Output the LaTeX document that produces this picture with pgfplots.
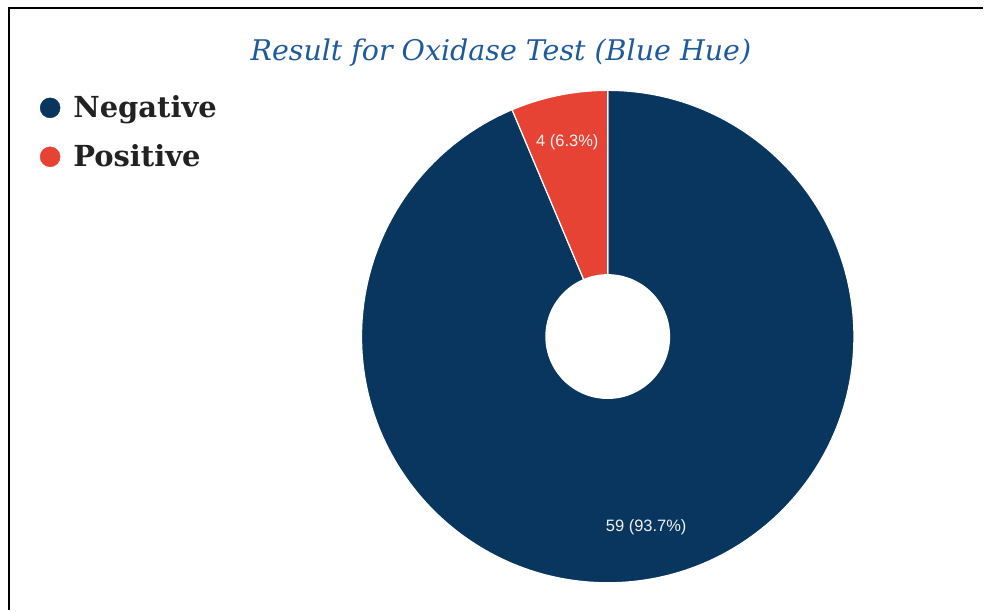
\documentclass[border=0pt]{standalone}
\usepackage{pgfplots}
\usepackage{pgfplotstable}
\pgfplotsset{compat=1.18}
\usepackage{fontspec}
\setmainfont{Liberation Sans}
\newfontfamily\titlefont{DejaVu Serif}
\newfontfamily\legfont{DejaVu Serif}
\definecolor{navy}{HTML}{08365E}
\definecolor{redc}{HTML}{E64334}
\definecolor{titleblue}{HTML}{1F5A9A}
\definecolor{legtext}{HTML}{222222}
\definecolor{labelc}{HTML}{F2F2F2}

\pgfplotstableread{
label value
Negative 59
Positive 4
}\pietable

\begin{document}
\begin{tikzpicture}
\begin{axis}[
  scale only axis, width=984pt, height=611pt,
  xmin=0, xmax=984, ymin=0, ymax=611,
  hide axis, clip=false,
  legend style={draw=none, fill=none, inner sep=0pt, outer sep=0pt,
    at={(axis cs:40,515)}, anchor=north west,
    font=\legfont\bfseries\fontsize{29}{34}\selectfont, text=legtext,
    nodes={inner sep=0pt, text height=22pt, text depth=8pt},
    row sep=19pt, column sep=13pt},
  legend cell align=left,
]
\path (axis cs:0,0) rectangle (axis cs:984,611);
\pgfplotstablegetelem{0}{value}\of\pietable \let\vA\pgfplotsretval
\pgfplotstablegetelem{1}{value}\of\pietable \let\vB\pgfplotsretval
\pgfmathsetmacro\tot{\vA+\vB}
\pgfmathsetmacro\aA{90-360*(\vA/\tot)}
\pgfmathsetmacro\aB{\aA-360*(\vB/\tot)}
\pgfmathsetmacro\xA{608.5+246.5*cos(\aA)}
\pgfmathsetmacro\yA{274+246.5*sin(\aA)}
\fill[navy, draw=white, line width=1.2pt] (axis cs:608.5,274) -- (axis cs:608.5,520.5)
   arc[start angle=90, end angle=\aA, radius=246.5pt] -- cycle;
\fill[redc, draw=white, line width=1.2pt] (axis cs:608.5,274) -- (axis cs:\xA,\yA)
   arc[start angle=\aA, end angle=\aB, radius=246.5pt] -- cycle;
\fill[white] (axis cs:608.5,274) circle[radius=62.5pt];
\node[text=labelc, font=\fontsize{16.5}{19}\selectfont] at (axis cs:568,469) {4 (6.3\%)};
\node[text=labelc, font=\fontsize{16.5}{19}\selectfont] at (axis cs:647,83) {59 (93.7\%)};
\node[anchor=base, text=titleblue, font=\titlefont\itshape\fontsize{28.5}{32}\selectfont] at (axis cs:501.5,550) {Result for Oxidase Test (Blue Hue)};
\draw[black, line width=2.5pt] (axis cs:8,603) -- (axis cs:984,603);
\draw[black, line width=2.5pt] (axis cs:9,604) -- (axis cs:9,0);
\addlegendimage{legend image code/.code={\fill[navy] (10pt,3pt) circle[radius=10pt];}}
\addlegendentry{Negative}
\addlegendimage{legend image code/.code={\fill[redc] (10pt,3pt) circle[radius=10pt];}}
\addlegendentry{Positive}
\end{axis}
\end{tikzpicture}
\end{document}
